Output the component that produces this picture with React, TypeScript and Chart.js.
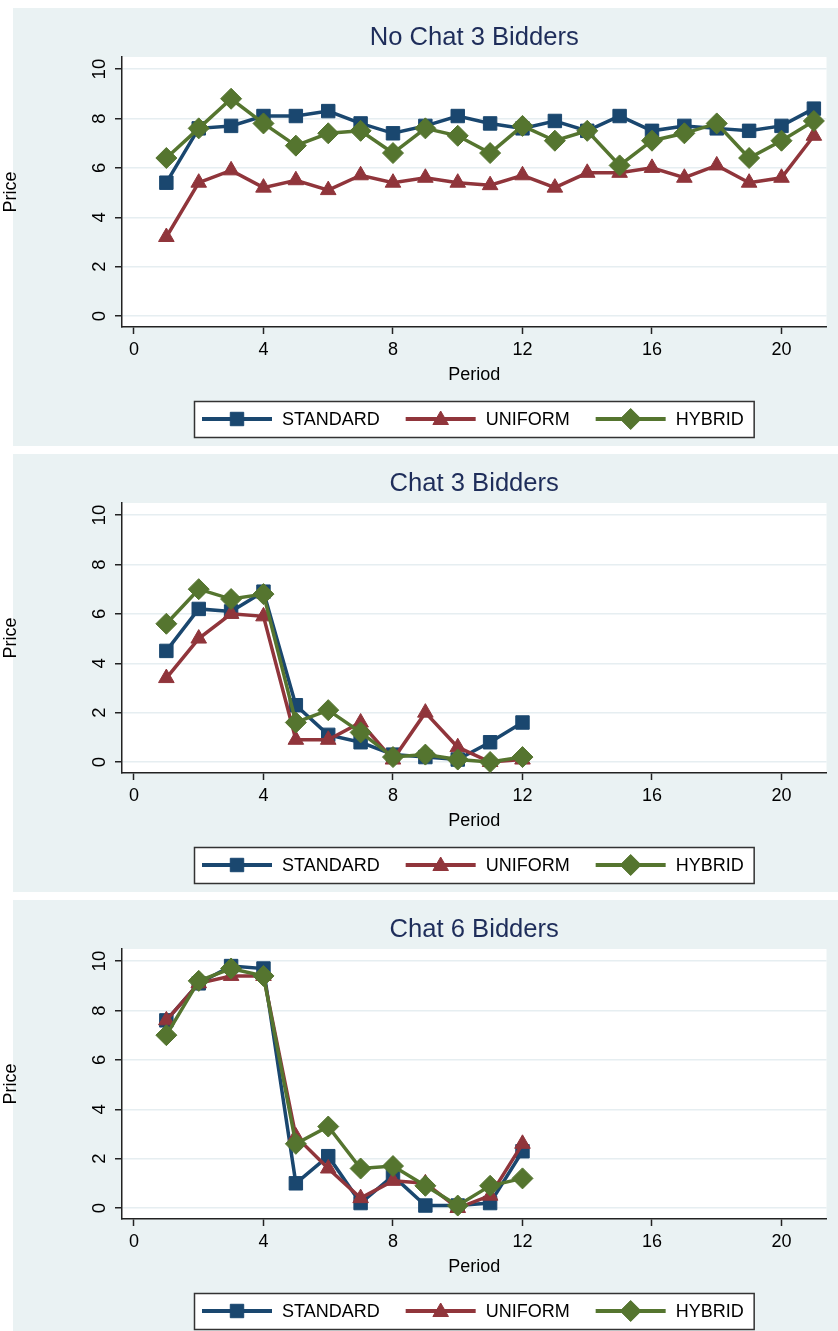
import React, { useEffect, useRef } from 'react';
import { Chart, registerables } from 'chart.js';

Chart.register(...registerables);

const FONT = "'Liberation Sans', Arial, Helvetica, sans-serif";
Chart.defaults.font.family = FONT;

// ---------- data ----------
const SERIES_NAMES = ['STANDARD', 'UNIFORM', 'HYBRID'];
const SERIES_COLORS = ['#1a476f', '#90353b', '#55752f'];
const SERIES_MARKERS = ['rect', 'triangle', 'rectRot'];
const SERIES_RADIUS = [9.5, 9, 10.5];

const X_TICKS = [0, 4, 8, 12, 16, 20];
const Y_TICKS = [0, 2, 4, 6, 8, 10];

const PERIODS_21 = [1, 2, 3, 4, 5, 6, 7, 8, 9, 10, 11, 12, 13, 14, 15, 16, 17, 18, 19, 20, 21];
const PERIODS_12 = [1, 2, 3, 4, 5, 6, 7, 8, 9, 10, 11, 12];

const NOCHAT3_STANDARD = [5.4, 7.6, 7.7, 8.1, 8.1, 8.3, 7.8, 7.4, 7.7, 8.1, 7.8, 7.6, 7.9, 7.5, 8.1, 7.5, 7.7, 7.6, 7.5, 7.7, 8.4];
const NOCHAT3_UNIFORM = [3.2, 5.4, 5.9, 5.2, 5.5, 5.1, 5.7, 5.4, 5.6, 5.4, 5.3, 5.7, 5.2, 5.8, 5.8, 6.0, 5.6, 6.1, 5.4, 5.6, 7.3];
const NOCHAT3_HYBRID = [6.4, 7.6, 8.8, 7.8, 6.9, 7.4, 7.5, 6.6, 7.6, 7.3, 6.6, 7.7, 7.1, 7.5, 6.1, 7.1, 7.4, 7.8, 6.4, 7.1, 7.9];

const CHAT3_STANDARD = [4.5, 6.2, 6.1, 6.9, 2.3, 1.1, 0.8, 0.3, 0.2, 0.1, 0.8, 1.6];
const CHAT3_UNIFORM = [3.4, 5.0, 6.0, 5.9, 0.9, 0.9, 1.6, 0.1, 2.0, 0.6, 0.0, 0.1];
const CHAT3_HYBRID = [5.6, 7.0, 6.6, 6.8, 1.6, 2.1, 1.2, 0.2, 0.3, 0.1, 0.0, 0.2];

const CHAT6_STANDARD = [7.6, 9.1, 9.8, 9.7, 1.0, 2.1, 0.2, 1.3, 0.1, 0.1, 0.2, 2.3];
const CHAT6_UNIFORM = [7.6, 9.1, 9.4, 9.4, 2.9, 1.6, 0.4, 1.1, 1.0, 0.0, 0.5, 2.6];
const CHAT6_HYBRID = [7.0, 9.2, 9.7, 9.4, 2.6, 3.3, 1.6, 1.7, 0.9, 0.1, 0.9, 1.2];

const PANEL_TITLES = ['No Chat 3 Bidders', 'Chat 3 Bidders', 'Chat 6 Bidders'];
const X_TITLE = 'Period';
const Y_TITLE = 'Price';

const PANELS = [
  { title: PANEL_TITLES[0], periods: PERIODS_21, series: [NOCHAT3_STANDARD, NOCHAT3_UNIFORM, NOCHAT3_HYBRID] },
  { title: PANEL_TITLES[1], periods: PERIODS_12, series: [CHAT3_STANDARD, CHAT3_UNIFORM, CHAT3_HYBRID] },
  { title: PANEL_TITLES[2], periods: PERIODS_12, series: [CHAT6_STANDARD, CHAT6_UNIFORM, CHAT6_HYBRID] },
];

// ---------- style ----------
const BG = '#eaf2f3';
const GRID = '#e6eef1';
const AXIS = '#222222';
const TITLE_COLOR = '#1e2d5a';
const CANVAS_W = 838;
const CANVAS_H = 446;

function drawMarker(ctx: CanvasRenderingContext2D, style: string, x: number, y: number, r: number) {
  ctx.beginPath();
  if (style === 'rect') {
    const s = Math.SQRT1_2 * r;
    ctx.rect(x - s, y - s, 2 * s, 2 * s);
  } else if (style === 'triangle') {
    const a = (2 * Math.PI) / 3;
    for (let i = 0; i < 3; i++) {
      const px = x + Math.sin(i * a) * r;
      const py = y - Math.cos(i * a) * r;
      if (i === 0) ctx.moveTo(px, py); else ctx.lineTo(px, py);
    }
    ctx.closePath();
  } else {
    ctx.moveTo(x - r, y);
    ctx.lineTo(x, y - r);
    ctx.lineTo(x + r, y);
    ctx.lineTo(x, y + r);
    ctx.closePath();
  }
  ctx.fill();
  ctx.stroke();
}

const decorPlugin = {
  id: 'stataDecor',
  beforeDraw(chart: any) {
    const { ctx, chartArea: a, width, height } = chart;
    ctx.save();
    ctx.fillStyle = '#ffffff';
    ctx.fillRect(0, 0, width, height);
    ctx.fillStyle = BG;
    ctx.fillRect(13, 8, width - 13, Math.min(height, 447) - 8);
    ctx.fillStyle = '#ffffff';
    ctx.fillRect(a.left, a.top, a.right - a.left, a.bottom - a.top);
    ctx.restore();
  },
  afterDraw(chart: any) {
    const { ctx, chartArea: a } = chart;
    const ds = chart.data.datasets;
    ctx.save();
    ctx.font = `18px ${FONT}`;
    const widths = ds.map((d: any) => ctx.measureText(d.label).width);
    const lineLen = 70;
    const gapText = 10;
    const gapEntry = 26;
    const padL = 8;
    const padR = 10;
    let total = padL + padR;
    widths.forEach((w: number, i: number) => {
      total += lineLen + gapText + w + (i < widths.length - 1 ? gapEntry : 0);
    });
    const cx = (a.left + a.right) / 2;
    const left = Math.round(cx - total / 2);
    const top = a.bottom + 74;
    const h = 36;
    ctx.fillStyle = '#ffffff';
    ctx.fillRect(left, top, total, h);
    ctx.strokeStyle = '#333333';
    ctx.lineWidth = 1.5;
    ctx.strokeRect(left + 0.5, top + 0.5, total, h);
    const cy = top + h / 2;
    let x = left + padL;
    ds.forEach((d: any, i: number) => {
      ctx.strokeStyle = d.borderColor;
      ctx.lineWidth = 4;
      ctx.beginPath();
      ctx.moveTo(x, cy);
      ctx.lineTo(x + lineLen, cy);
      ctx.stroke();
      ctx.fillStyle = d.borderColor;
      ctx.lineWidth = 1;
      drawMarker(ctx, d.pointStyle, x + lineLen / 2, cy + (d.pointStyle === 'triangle' ? 1 : 0), d.pointRadius);
      ctx.fillStyle = '#000000';
      ctx.textAlign = 'left';
      ctx.textBaseline = 'middle';
      ctx.fillText(d.label, x + lineLen + gapText, cy + 1);
      x += lineLen + gapText + widths[i] + gapEntry;
    });
    ctx.restore();
  },
};

function Panel({ panel }: { panel: typeof PANELS[number] }) {
  const ref = useRef<HTMLCanvasElement>(null);
  useEffect(() => {
    const datasets = SERIES_NAMES.map((name, i) => ({
      label: name,
      data: panel.periods.map((p, j) => ({ x: p, y: panel.series[i][j] })),
      borderColor: SERIES_COLORS[i],
      backgroundColor: SERIES_COLORS[i],
      pointBackgroundColor: SERIES_COLORS[i],
      pointBorderColor: SERIES_COLORS[i],
      pointStyle: SERIES_MARKERS[i],
      pointRadius: SERIES_RADIUS[i],
      pointBorderWidth: 1,
      borderWidth: 3.5,
      tension: 0,
      fill: false,
      order: 2 - i,
    }));
    const chart = new Chart(ref.current as HTMLCanvasElement, {
      type: 'line',
      data: { datasets } as any,
      options: {
        responsive: false,
        animation: false,
        devicePixelRatio: 1,
        events: [],
        layout: { padding: { left: 0, right: 10, top: 0, bottom: 0 } },
        plugins: {
          legend: { display: false },
          tooltip: { enabled: false },
          title: {
            display: true,
            text: panel.title,
            fullSize: false,
            color: TITLE_COLOR,
            font: { size: 25.6, weight: 'normal', family: FONT, lineHeight: 1.2 },
            padding: { top: 23, bottom: 3.3 },
          },
        },
        scales: {
          x: {
            type: 'linear',
            min: -0.37,
            max: 21.39,
            afterBuildTicks: (s: any) => { s.ticks = X_TICKS.map((v) => ({ value: v })); },
            afterFit: (s: any) => { s.height = CANVAS_H - 327; },
            ticks: { color: '#000', font: { size: 18, family: FONT }, padding: 5.5, maxRotation: 0, autoSkip: false },
            grid: { display: true, drawOnChartArea: false, drawTicks: true, tickLength: 7, tickColor: AXIS, tickWidth: 1.5 },
            border: { display: true, color: AXIS, width: 1.5 },
            title: { display: true, text: X_TITLE, color: '#000', font: { size: 18, family: FONT }, padding: { top: 0, bottom: 60 } },
          },
          y: {
            type: 'linear',
            min: -0.445,
            max: 10.49,
            afterBuildTicks: (s: any) => { s.ticks = Y_TICKS.map((v) => ({ value: v })); },
            afterFit: (s: any) => { s.width = 122; },
            ticks: { color: '#000', font: { size: 18.5, family: FONT }, padding: 5, minRotation: 90, maxRotation: 90, crossAlign: 'center', autoSkip: false },
            grid: { display: true, drawOnChartArea: true, color: GRID, lineWidth: 1.5, drawTicks: true, tickLength: 7, tickColor: AXIS, tickWidth: 1.5 },
            border: { display: true, color: AXIS, width: 1.5 },
            title: { display: true, text: Y_TITLE, color: '#000', font: { size: 18, family: FONT }, padding: { top: 0, bottom: 0 } },
          },
        },
      } as any,
      plugins: [decorPlugin],
    });
    return () => chart.destroy();
  }, [panel]);
  return (
    <canvas
      ref={ref}
      width={CANVAS_W}
      height={CANVAS_H}
      style={{ display: 'block', width: CANVAS_W, height: CANVAS_H }}
    />
  );
}

export default function App() {
  return (
    <div
      style={{
        position: 'absolute',
        left: 0,
        top: 0,
        width: CANVAS_W,
        height: 1331,
        overflow: 'hidden',
        background: '#ffffff',
      }}
    >
      {PANELS.map((p, i) => (
        <Panel key={i} panel={p} />
      ))}
    </div>
  );
}
